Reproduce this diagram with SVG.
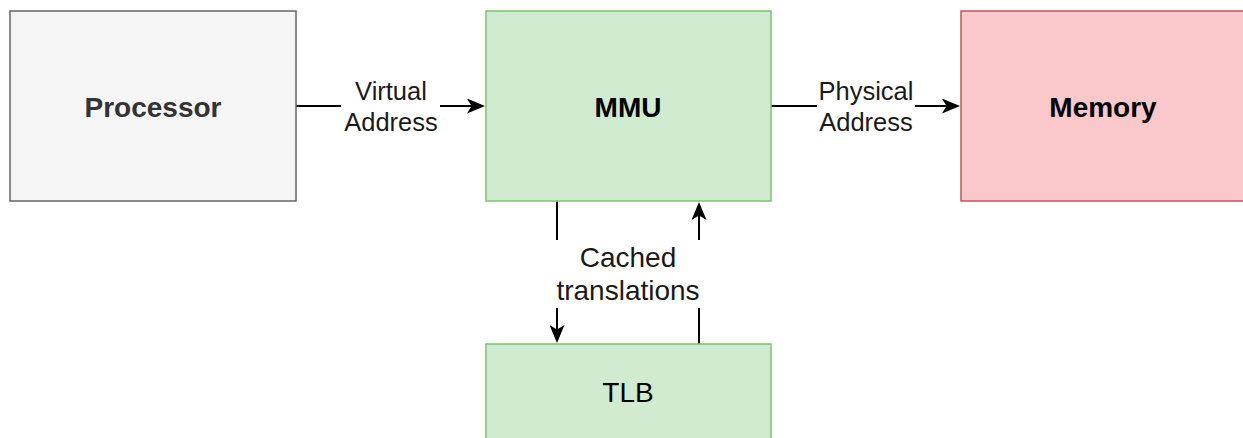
<svg xmlns="http://www.w3.org/2000/svg" width="1243" height="438" viewBox="0 0 1243 438">
  <defs>
    <marker id="arrow" markerUnits="userSpaceOnUse" viewBox="0 0 18 15" markerWidth="18" markerHeight="15" refX="14" refY="7.5" orient="auto">
      <path d="M0,0 L18,7.5 L0,15 L4.5,7.5 Z" fill="#000"/>
    </marker>
  </defs>
  <style>
    text { font-family: "Liberation Sans", Arial, sans-serif; text-anchor: middle; }
    .node { font-size: 28px; }
    .bold { font-weight: bold; }
    .lbl { font-size: 25.5px; fill: #1a1a1a; }
    .edge { stroke: #000; stroke-width: 2; fill: none; }
    .bg { fill: #fff; stroke: none; }
    .green { fill: #d0ebcf; stroke: #7cc46e; stroke-width: 1.5; }
  </style>
  <rect x="0" y="0" width="1243" height="438" fill="#fff"/>

  <g id="connectors">
    <line class="edge" x1="296" y1="106" x2="481" y2="106" marker-end="url(#arrow)"/>
    <rect class="bg" x="341" y="78" width="99" height="58"/>
    <text class="lbl" x="391" y="100">Virtual</text>
    <text class="lbl" x="391" y="131">Address</text>

    <line class="edge" x1="771" y1="106" x2="956" y2="106" marker-end="url(#arrow)"/>
    <rect class="bg" x="817" y="78" width="98" height="58"/>
    <text class="lbl" x="866" y="100">Physical</text>
    <text class="lbl" x="866" y="131">Address</text>

    <line class="edge" x1="557" y1="201" x2="557" y2="339" marker-end="url(#arrow)"/>
    <line class="edge" x1="699" y1="344" x2="699" y2="206" marker-end="url(#arrow)"/>
    <rect class="bg" x="545" y="240" width="166" height="68"/>
    <text class="node" x="628" y="267" fill="#1a1a1a">Cached</text>
    <text class="node" x="628" y="300" fill="#1a1a1a">translations</text>
  </g>

  <g id="processor">
    <rect x="10" y="11" width="286" height="190" fill="#f5f5f5" stroke="#666666" stroke-width="1.5"/>
    <text class="node bold" x="153" y="116.5" fill="#333333">Processor</text>
  </g>

  <g id="mmu">
    <rect class="green" x="486" y="11" width="285" height="190"/>
    <text class="node bold" x="628" y="116.5" fill="#000">MMU</text>
  </g>

  <g id="memory">
    <rect x="961" y="11" width="285" height="190" fill="#fac8ca" stroke="#c8525a" stroke-width="1.5"/>
    <text class="node bold" x="1103" y="116.5" fill="#000">Memory</text>
  </g>

  <g id="tlb">
    <rect class="green" x="486" y="344" width="285" height="190"/>
    <text class="node" x="628" y="401.5" fill="#000">TLB</text>
  </g>
</svg>
